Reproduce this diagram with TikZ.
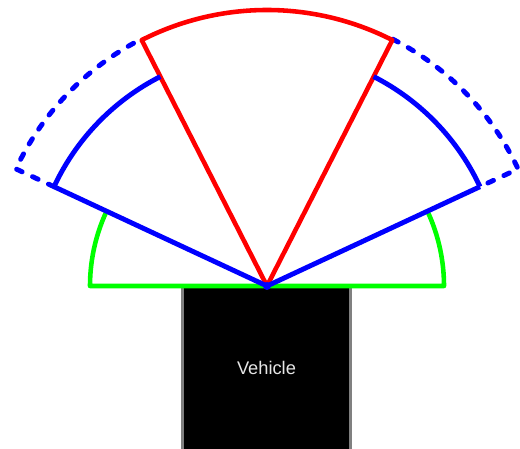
\documentclass[tikz,border=0pt]{standalone}
\usepackage{fontspec}
\setmainfont{Liberation Sans}
\usetikzlibrary{calc}

\begin{document}
\begin{tikzpicture}[x=0.02cm, y=0.02cm, line join=round,
  beam/.style  = {line width=2.6pt},
  near/.style  = {beam, draw=green},
  mid/.style   = {beam, draw=blue, line width=2.8pt},
  ext/.style   = {mid, line cap=round, dash pattern=on 3.5pt off 6.5pt},
  far/.style   = {beam, draw=red},
  car/.style   = {fill=black, text=black!10, inner sep=0pt,
                  minimum width=3.34cm, minimum height=3.24cm,
                  font=\fontsize{10.4}{12}\selectfont}
]
\useasboundingbox (0,0) rectangle (520,449);

%% --- Vehicle ---
\node[car] (vehicle) at (266.5,81) {Vehicle};
\draw[gray, line width=1.5pt] (vehicle.north west) -- (vehicle.south west);
\draw[gray, line width=1.5pt] (vehicle.north east) -- (vehicle.south east);

%% --- Sensor origin ---
\coordinate (O) at (267,163);

%% --- Near range (green) ---
\draw[near] ($(O)+(155:177)$) arc[start angle=155, end angle=180, radius=177]
  -- ($(O)+(0:177)$) arc[start angle=0, end angle=25, radius=177];

%% --- Extended mid range (blue, dashed) ---
\draw[ext] ($(O)+(155:235)$) -- ($(O)+(155:277)$)
  arc[start angle=155, end angle=117, radius=277];
\draw[ext] ($(O)+(63:277)$) arc[start angle=63, end angle=25, radius=277]
  -- ($(O)+(25:235)$);

%% --- Far range (red) ---
\draw[far] (O) -- ($(O)+(63:276)$)
  arc[start angle=63, end angle=117, radius=276] -- cycle;

%% --- Mid range (blue) ---
\draw[mid] ($(O)+(155:235)$) arc[start angle=155, end angle=117, radius=235];
\draw[mid] ($(O)+(63:235)$) arc[start angle=63, end angle=25, radius=235];
\draw[mid] (O) -- ($(O)+(155:235)$);
\draw[mid] (O) -- ($(O)+(25:235)$);
\fill[blue] (O) circle (4);
\end{tikzpicture}
\end{document}
